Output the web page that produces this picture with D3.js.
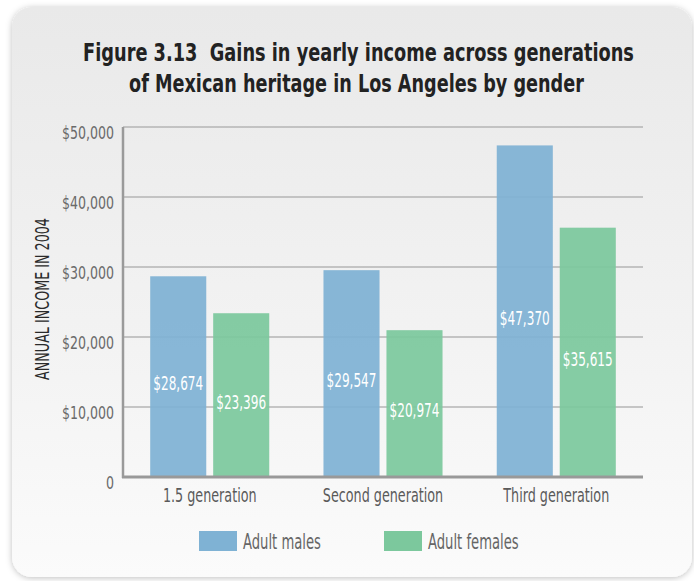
<!DOCTYPE html>
<html>
<head>
<meta charset="utf-8">
<script src="https://cdn.jsdelivr.net/npm/d3@7"></script>
<style>
  html, body { margin: 0; padding: 0; background: #ffffff; }
  svg { display: block; }
  text { font-family: "DejaVu Sans Condensed", "Liberation Sans Narrow", "DejaVu Sans", sans-serif; }
</style>
</head>
<body>
<svg id="chart" width="694" height="581"></svg>
<script>
// ---- data ----
const categories = ["1.5 generation", "Second generation", "Third generation"];
const seriesNames = ["Adult males", "Adult females"];
const males = [28674, 29547, 47370];
const females = [23396, 20974, 35615];
const yTicks = [0, 10000, 20000, 30000, 40000, 50000];
const titleLines = ["Figure 3.13  Gains in yearly income across generations", "of Mexican heritage in Los Angeles by gender"];
const yAxisTitle = "ANNUAL INCOME IN 2004";

const colors = ["#7fb2d4", "#7cc89d"];

const svg = d3.select("#chart");

// horizontal condensing helper (the reference uses a very narrow face)
function condense(sel, f) {
  sel.each(function () {
    const t = d3.select(this);
    const ax = +t.attr("x") || 0;
    t.attr("transform", `translate(${ax},0) scale(${f},1) translate(${-ax},0)`);
  });
}
function factorFor(sel, sampleText, target) {
  let node = null;
  sel.each(function () { if (d3.select(this).text() === sampleText) node = this; });
  if (!node) node = sel.node();
  return target / node.getComputedTextLength();
}

// background panel with shadow
const defs = svg.append("defs");
const grad = defs.append("linearGradient").attr("id", "bg").attr("x1", 0).attr("y1", 0).attr("x2", 0).attr("y2", 1);
grad.append("stop").attr("offset", "0%").attr("stop-color", "#e9e9e9");
grad.append("stop").attr("offset", "55%").attr("stop-color", "#f2f2f2");
grad.append("stop").attr("offset", "100%").attr("stop-color", "#fbfbfb");
const filt = defs.append("filter").attr("id", "shadow").attr("x", -0.05).attr("y", -0.05).attr("width", 1.1).attr("height", 1.1);
filt.append("feDropShadow").attr("dx", 0).attr("dy", 1).attr("stdDeviation", 3).attr("flood-color", "#000").attr("flood-opacity", 0.25);

svg.append("rect").attr("x", 12).attr("y", 7).attr("width", 680).attr("height", 570)
  .attr("rx", 20).attr("ry", 20).attr("fill", "url(#bg)").attr("filter", "url(#shadow)");

// title
const titleTargets = [551, 455];
const titleX = [358.5, 356.5];
titleLines.forEach((t, i) => {
  const tx = svg.append("text")
    .attr("x", titleX[i]).attr("y", 61 + i * 31)
    .attr("text-anchor", "middle")
    .attr("font-size", 25).attr("font-weight", "bold")
    .attr("fill", "#222")
    .style("white-space", "pre")
    .text(t);
  condense(tx, titleTargets[i] / tx.node().getComputedTextLength());
});

// scales
const plotLeft = 123, plotRight = 643, plotTop = 127, plotBottom = 477;
const y = d3.scaleLinear().domain([0, 50000]).range([plotBottom, plotTop]);
const x0 = d3.scaleBand().domain(categories).range([plotLeft, plotRight]).paddingInner(0.313).paddingOuter(0.157);
const x1 = d3.scaleBand().domain(seriesNames).range([0, x0.bandwidth()]).paddingInner(0.11).paddingOuter(0);

// gridlines
svg.append("g").selectAll("line").data(yTicks.filter(d => d > 0)).join("line")
  .attr("x1", plotLeft).attr("x2", plotRight)
  .attr("y1", d => y(d)).attr("y2", d => y(d))
  .attr("stroke", "#b4b4b4").attr("stroke-width", 1.3);

// y axis
const yAxis = d3.axisLeft(y).tickValues(yTicks)
  .tickFormat(d => d === 0 ? "0" : "$" + d3.format(",")(d))
  .tickSize(0).tickPadding(9);
const gy = svg.append("g").attr("transform", `translate(${plotLeft},0)`).call(yAxis);
gy.select(".domain").remove();
gy.selectAll("text").attr("font-size", 18.5).attr("fill", "#6a6a6a")
  .attr("font-family", null)
  .attr("dy", "0.35em").attr("y", 5);
const yTickText = gy.selectAll("text");
condense(yTickText, factorFor(yTickText, "$50,000", 52));

// bars
const groups = svg.append("g").selectAll("g").data(categories).join("g")
  .attr("transform", d => `translate(${x0(d)},0)`);
const barData = (c, i) => [
  { s: seriesNames[0], v: males[i], k: 0 },
  { s: seriesNames[1], v: females[i], k: 1 }
];
groups.selectAll("rect").data((c, i) => barData(c, i)).join("rect")
  .attr("x", d => x1(d.s)).attr("width", x1.bandwidth())
  .attr("y", d => y(d.v)).attr("height", d => y(0) - y(d.v))
  .attr("fill", d => colors[d.k]).attr("fill-opacity", 0.93);

const valLabels = groups.selectAll("text").data((c, i) => barData(c, i)).join("text")
  .attr("x", d => x1(d.s) + x1.bandwidth() / 2)
  .attr("y", d => y(d.v / 2) + 7)
  .attr("dy", "0.35em")
  .attr("text-anchor", "middle")
  .attr("font-size", 19).attr("fill", "#ffffff")
  .text(d => "$" + d3.format(",")(d.v));
condense(valLabels, factorFor(valLabels, "$28,674", 50));

// axis lines
svg.append("line").attr("x1", plotLeft).attr("x2", plotLeft).attr("y1", plotTop).attr("y2", plotBottom + 1)
  .attr("stroke", "#9a9a9a").attr("stroke-width", 2.5);
const xAxis = d3.axisBottom(x0).tickSize(0).tickPadding(0);
const gx = svg.append("g").attr("transform", `translate(0,${plotBottom})`).call(xAxis);
gx.select(".domain").remove();
svg.append("line").attr("x1", plotLeft - 1).attr("x2", plotRight).attr("y1", plotBottom).attr("y2", plotBottom)
  .attr("stroke", "#999").attr("stroke-width", 3);
gx.selectAll("text").attr("font-size", 19).attr("fill", "#5a5a5a")
  .attr("font-family", null)
  .attr("y", 25).attr("dy", 0);
const xText = gx.selectAll("text");
condense(xText, factorFor(xText, "Third generation", 106));

// y-axis title
const yt = svg.append("text")
  .attr("x", 0).attr("y", 0)
  .attr("text-anchor", "middle")
  .attr("font-size", 20).attr("fill", "#2a2a2a")
  .text(yAxisTitle);
const ytf = 162 / yt.node().getComputedTextLength();
yt.attr("transform", `translate(49,299) rotate(-90) scale(${ytf},1)`);

// legend
const legendX = [199, 384];
const legend = svg.append("g").selectAll("g").data(seriesNames).join("g")
  .attr("transform", (d, i) => `translate(${legendX[i]},531)`);
legend.append("rect").attr("width", 38).attr("height", 20).attr("fill", (d, i) => colors[i]);
const legText = legend.append("text").attr("x", 44).attr("y", 18)
  .attr("font-size", 21).attr("fill", "#666").text(d => d);
condense(legText, factorFor(legText, "Adult males", 78));
</script>
</body>
</html>
